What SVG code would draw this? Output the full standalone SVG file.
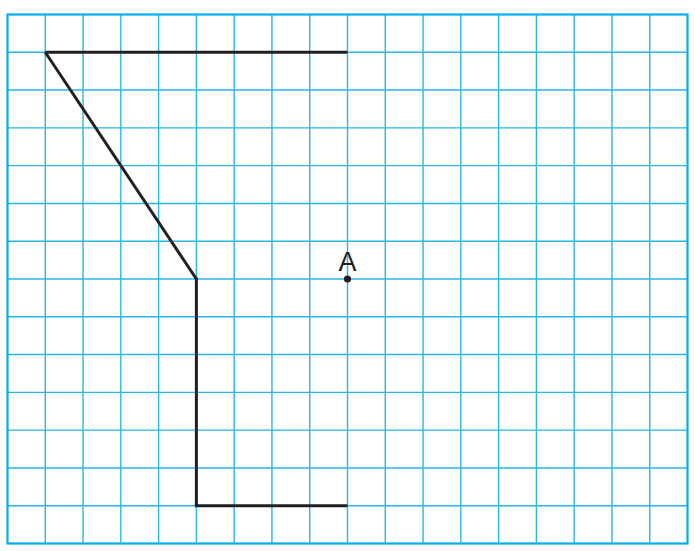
<svg xmlns="http://www.w3.org/2000/svg" width="695" height="551" viewBox="0 0 695 551">
<style>
.g{stroke:#29b6e8;stroke-width:1.4;fill:none}
.b{stroke:#00aeef;stroke-width:2.2;fill:none}
.s{stroke:#231f20;stroke-width:3;fill:none;stroke-linecap:butt}
.t{font-family:"Liberation Sans","DejaVu Sans",sans-serif;font-size:27px;fill:#231f20;text-anchor:middle}
</style>
<rect width="695" height="551" fill="#ffffff"/>
<g id="grid">
<path class="g" d="M45.28 14.5V543.5M83.06 14.5V543.5M120.83 14.5V543.5M158.61 14.5V543.5M196.39 14.5V543.5M234.17 14.5V543.5M271.94 14.5V543.5M309.72 14.5V543.5M347.5 14.5V543.5M385.28 14.5V543.5M423.06 14.5V543.5M460.83 14.5V543.5M498.61 14.5V543.5M536.39 14.5V543.5M574.17 14.5V543.5M611.94 14.5V543.5M649.72 14.5V543.5"/>
<path class="g" d="M7.5 52.29H687.5M7.5 90.07H687.5M7.5 127.86H687.5M7.5 165.64H687.5M7.5 203.43H687.5M7.5 241.21H687.5M7.5 279H687.5M7.5 316.79H687.5M7.5 354.57H687.5M7.5 392.36H687.5M7.5 430.14H687.5M7.5 467.93H687.5M7.5 505.71H687.5"/>
<rect class="b" x="7.5" y="14.5" width="680" height="529"/>
</g>
<g id="shape">
<line class="s" x1="45.28" y1="52.29" x2="347.5" y2="52.29"/>
<line class="s" x1="45.28" y1="52.29" x2="196.39" y2="279"/>
<line class="s" x1="196.39" y1="277.5" x2="196.39" y2="505.71"/>
<line class="s" x1="194.9" y1="505.71" x2="347.5" y2="505.71"/>
</g>
<g id="pointA">
<circle cx="347.5" cy="279" r="3.6" fill="#231f20"/>
<text class="t" x="347.5" y="270.5">A</text>
</g>
</svg>
